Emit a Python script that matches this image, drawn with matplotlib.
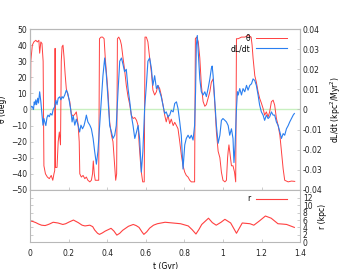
import matplotlib
matplotlib.use("Agg")
import matplotlib.pyplot as plt

# theta (deg) vs time (Gyr)
t_theta = [0.000, 0.004, 0.012, 0.020, 0.030, 0.038, 0.046, 0.050, 0.056, 0.062,
           0.068, 0.072, 0.080, 0.090, 0.100, 0.110, 0.118, 0.124, 0.128, 0.130,
           0.132, 0.140, 0.146, 0.152, 0.158, 0.162, 0.166, 0.171, 0.176, 0.182,
           0.188, 0.196, 0.206, 0.214, 0.224, 0.232, 0.240, 0.249, 0.255, 0.258,
           0.266, 0.275, 0.284, 0.292, 0.300, 0.310, 0.318, 0.324, 0.328, 0.333,
           0.338, 0.350, 0.356, 0.360, 0.368, 0.376, 0.384, 0.390, 0.398, 0.404,
           0.413, 0.422, 0.430, 0.436, 0.440, 0.444, 0.449, 0.453, 0.460, 0.468,
           0.474, 0.482, 0.490, 0.499, 0.508, 0.517, 0.525, 0.534, 0.543, 0.552,
           0.560, 0.566, 0.572, 0.577, 0.584, 0.592, 0.596, 0.603, 0.611, 0.620,
           0.629, 0.637, 0.646, 0.655, 0.663, 0.672, 0.680, 0.689, 0.698, 0.706,
           0.715, 0.724, 0.732, 0.742, 0.750, 0.759, 0.767, 0.776, 0.784, 0.793,
           0.802, 0.810, 0.819, 0.828, 0.836, 0.845, 0.853, 0.857, 0.864, 0.872,
           0.880, 0.888, 0.897, 0.906, 0.914, 0.923, 0.932, 0.940, 0.949, 0.958,
           0.966, 0.975, 0.984, 0.992, 1.000, 1.010, 1.018, 1.024, 1.027, 1.031,
           1.035, 1.044, 1.052, 1.060, 1.066, 1.070, 1.079, 1.096, 1.113, 1.130,
           1.146, 1.151, 1.156, 1.165, 1.173, 1.182, 1.190, 1.199, 1.208, 1.216,
           1.225, 1.234, 1.242, 1.251, 1.260, 1.268, 1.277, 1.286, 1.295, 1.303,
           1.312, 1.320, 1.338, 1.355, 1.372]
theta = [-38, 30, 40, 42, 43, 42, 43, 35, 42, 41,
         30, -35, -40, -42, -43, -41, -44, -40, -38, 38,
         -36, -36, -20, -14, -22, 30, 39, 40, 33, 22,
         13, 9, 5, -3, -4, -3, -1.5, -9, -20, -40,
         -42, -41, -43, -42, -44, -45, -44, -40, -32, -40,
         -44, -44, -44, 44, 45, 45, 44, 32, 20, 11,
         -8, -16, -20, -30, -37, -44, -40, 44, 45, 43,
         40, 32, 25, 15, 8, 3, -3.5, -5.6, -5, -6.7,
         -10, -22, -32, -39, -45, -45, 45, 45, 42, 32,
         23, 12, 9, 11, 15, 13, 9, 3, -3.5, -7.7,
         -3.5, -8.8, -6, -10, -8, -10, -12, -20, -28, -35,
         -39, -41, -42, -44, -45, -45, -45, 44, 45, 42,
         32, 15, 5, 2, 3, 7, 11, 17, 19, 3,
         -14, -26, -30, -39, -44, -45, -44, -30, -26, -22,
         -26, -35, -35, -39, -45, 44, 44, 45, 45, 46,
         45, 40, 32, 21, 17, 11, 7, 4, 0.6, -3.5,
         -1.5, -4.6, -1.5, 4.8, 5.8, 2.7, -5.6, -10, -16, -26,
         -37, -44, -45, -44.5, -44.7]

# dL/dt (kpc^2/Myr^2) vs time (Gyr)
t_dldt = [0.000, 0.006, 0.012, 0.018, 0.022, 0.026, 0.030, 0.034, 0.040, 0.044,
          0.050, 0.056, 0.062, 0.067, 0.072, 0.077, 0.082, 0.088, 0.093, 0.100,
          0.106, 0.114, 0.120, 0.128, 0.134, 0.140, 0.146, 0.154, 0.160, 0.166,
          0.172, 0.180, 0.188, 0.196, 0.204, 0.210, 0.214, 0.218, 0.224, 0.232,
          0.240, 0.249, 0.257, 0.264, 0.272, 0.280, 0.288, 0.292, 0.300, 0.310,
          0.318, 0.327, 0.335, 0.344, 0.352, 0.361, 0.370, 0.378, 0.387, 0.396,
          0.404, 0.413, 0.422, 0.430, 0.439, 0.447, 0.456, 0.465, 0.474, 0.482,
          0.490, 0.499, 0.508, 0.517, 0.525, 0.534, 0.543, 0.552, 0.560, 0.568,
          0.577, 0.585, 0.594, 0.603, 0.611, 0.620, 0.629, 0.637, 0.646, 0.655,
          0.663, 0.672, 0.680, 0.689, 0.698, 0.706, 0.715, 0.724, 0.732, 0.742,
          0.750, 0.759, 0.767, 0.776, 0.784, 0.793, 0.802, 0.810, 0.819, 0.828,
          0.836, 0.845, 0.853, 0.858, 0.862, 0.867, 0.872, 0.880, 0.888, 0.897,
          0.906, 0.914, 0.923, 0.932, 0.940, 0.944, 0.949, 0.958, 0.966, 0.975,
          0.984, 0.992, 1.000, 1.010, 1.018, 1.027, 1.035, 1.044, 1.052, 1.057,
          1.063, 1.070, 1.075, 1.079, 1.087, 1.096, 1.104, 1.113, 1.122, 1.130,
          1.139, 1.148, 1.156, 1.165, 1.173, 1.182, 1.190, 1.199, 1.208, 1.216,
          1.225, 1.234, 1.242, 1.251, 1.260, 1.268, 1.277, 1.286, 1.295, 1.303,
          1.312, 1.320, 1.329, 1.338, 1.346, 1.355, 1.364, 1.370]
dldt = [-0.0012, 0.0016, 0.0014, 0.0, 0.0038, 0.0024, 0.0048, 0.0024, 0.0056, 0.0032,
        0.0088, 0.0040, -0.0024, -0.0078, -0.0045, -0.0064, -0.0080, -0.0040, -0.0028, -0.0036,
        -0.0020, -0.0028, 0.0, 0.0014, 0.0046, 0.0024, 0.0056, 0.0063, 0.0048, 0.0064,
        0.0056, 0.0072, 0.0096, 0.0080, 0.0040, 0.0005, -0.0024, -0.0062, -0.0032, -0.0078,
        -0.0048, -0.0078, -0.0112, -0.0078, -0.0096, -0.0080, -0.0048, -0.0028, -0.0062, -0.0078,
        -0.0096, -0.0144, -0.0208, -0.0272, -0.0208, -0.0078, 0.0056, 0.0168, 0.0256, 0.0168,
        0.0056, -0.0080, -0.0112, -0.0144, -0.0128, -0.0080, 0.0088, 0.0240, 0.0256, 0.0224,
        0.0188, 0.0200, 0.0104, 0.0038, -0.0028, -0.0080, -0.0144, -0.0112, -0.0080, -0.0144,
        -0.0312, -0.0208, 0.0005, 0.0120, 0.0240, 0.0256, 0.0205, 0.0120, 0.0168, 0.0104,
        0.0120, 0.0088, 0.0064, 0.0022, -0.0020, -0.0012, -0.0037, -0.0028, -0.0004, -0.0012,
        0.0030, 0.0038, 0.0005, -0.0062, -0.0128, -0.0296, -0.0176, -0.0144, -0.0128, -0.0144,
        -0.0128, -0.0152, -0.0080, 0.0088, 0.0320, 0.0368, 0.0288, 0.0152, 0.0088, 0.0072,
        0.0088, 0.0064, 0.0104, 0.0152, 0.0205, 0.0216, 0.0168, 0.0038, -0.0080, -0.0168,
        -0.0128, -0.0054, -0.0045, -0.0054, -0.0062, -0.0080, -0.0128, -0.0096, -0.0144, -0.0264,
        -0.0176, 0.0005, 0.0088, 0.0072, 0.0104, 0.0072, 0.0104, 0.0088, 0.0120, 0.0096,
        0.0120, 0.0128, 0.0152, 0.0144, 0.0120, 0.0072, 0.0022, -0.0012, -0.0028, -0.0054,
        -0.0028, -0.0045, -0.0037, -0.0012, -0.0028, -0.0028, -0.0062, -0.0080, -0.0112, -0.0144,
        -0.0120, -0.0128, -0.0096, -0.0080, -0.0062, -0.0045, -0.0028, -0.0020]

# r (kpc) vs time (Gyr)
t_r = [0.0, 0.015, 0.03, 0.045, 0.06, 0.078, 0.09, 0.10, 0.12, 0.145,
       0.17, 0.185, 0.20, 0.225, 0.25, 0.27, 0.285, 0.31, 0.325, 0.335,
       0.35, 0.36, 0.375, 0.39, 0.42, 0.435, 0.45, 0.465, 0.48, 0.51,
       0.535, 0.55, 0.565, 0.58, 0.59, 0.605, 0.62, 0.64, 0.66, 0.70,
       0.74, 0.78, 0.82, 0.84, 0.86, 0.875, 0.89, 0.925, 0.945, 0.965,
       0.99, 1.01, 1.04, 1.055, 1.07, 1.085, 1.10, 1.14, 1.16, 1.19,
       1.22, 1.25, 1.285, 1.31, 1.33, 1.37]
r = [5.75, 5.6, 5.3, 4.9, 4.6, 4.5, 4.7, 4.9, 5.4, 5.2,
     4.8, 5.0, 5.4, 6.0, 5.3, 4.6, 4.4, 4.6, 4.2, 3.3,
     2.4, 2.1, 2.5, 3.0, 3.75, 3.0, 1.9, 2.4, 3.2, 4.3,
     4.8, 4.5, 4.0, 2.8, 2.1, 2.8, 3.8, 4.6, 5.0, 5.4,
     5.2, 5.0, 4.4, 3.4, 2.2, 3.4, 4.8, 6.5, 5.3, 4.6,
     5.4, 6.2, 5.2, 3.8, 2.4, 3.8, 5.2, 5.0, 4.6, 5.8,
     7.1, 6.5, 5.0, 4.9, 4.8, 4.0]

xticks = [0, 0.2, 0.4, 0.6, 0.8, 1.0, 1.2, 1.4]
xticklabels = ["0", "0.2", "0.4", "0.6", "0.8", "1", "1.2", "1.4"]
theta_ticks = [-50, -40, -30, -20, -10, 0, 10, 20, 30, 40, 50]
dldt_ticks = [-0.04, -0.03, -0.02, -0.01, 0, 0.01, 0.02, 0.03, 0.04]
dldt_labels = ["-0.04", "-0.03", "-0.02", "-0.01", "0", "0.01", "0.02", "0.03", "0.04"]
r_ticks = [0, 2, 4, 6, 8, 10, 12]

red = "#ff4040"
blue = "#2a7ff0"
grey = "#b8b8b8"
fs = 5.5

fig = plt.figure(figsize=(3.49, 2.69), dpi=100)
ax1 = fig.add_axes([0.086, 0.294, 0.774, 0.598])
ax1r = ax1.twinx()
ax2 = fig.add_axes([0.086, 0.100, 0.774, 0.194])

def style(ax):
    for s in ax.spines.values():
        s.set_color(grey)
        s.set_linewidth(0.8)
    ax.tick_params(direction="in", length=2.5, width=0.5, color=grey,
                   labelsize=fs, labelcolor="#222222", pad=2)

for ax in (ax1, ax1r, ax2):
    style(ax)

ax1.axhline(0, color="#c8f0c0", lw=1.0, zorder=0)
l1, = ax1.plot(t_theta, theta, color=red, lw=0.7, label="θ")
l2, = ax1r.plot(t_dldt, dldt, color=blue, lw=0.8, label="dL/dt")
ax1.set_xlim(0, 1.4)
ax1.set_ylim(-50, 50)
ax1r.set_ylim(-0.04, 0.04)
ax1.set_yticks(theta_ticks)
ax1.set_xticks(xticks)
ax1.tick_params(labelbottom=False)
ax1r.set_yticks(dldt_ticks)
ax1r.set_yticklabels(dldt_labels)
ax1.set_ylabel("θ (deg)", fontsize=fs, labelpad=3)
ax1r.set_ylabel("dL/dt (kpc$^2$/Myr$^2$)", fontsize=fs, labelpad=4)
ax1r.legend([l1, l2], ["θ", "dL/dt"], loc="upper right", bbox_to_anchor=(0.97, 1.0),
            frameon=False, markerfirst=False, fontsize=fs, handlelength=4.1,
            handletextpad=0.8, borderaxespad=0.2, labelspacing=0.2)

l3, = ax2.plot(t_r, r, color=red, lw=0.8)
ax2.set_xlim(0, 1.4)
ax2.set_ylim(0, 14.2)
ax2.set_xticks(xticks)
ax2.set_xticklabels(xticklabels)
ax2.set_yticks(r_ticks)
ax2.yaxis.set_label_position("right")
ax2.tick_params(left=True, right=True, labelleft=False, labelright=True, labelsize=fs)
ax2.tick_params(axis="x", pad=5)
ax2.set_ylabel("r (kpc)", fontsize=fs, labelpad=4)
ax2.set_xlabel("t (Gyr)", fontsize=fs, labelpad=3)
ax2.legend([l3], ["r"], loc="upper right", bbox_to_anchor=(0.97, 1.0), frameon=False,
           markerfirst=False, fontsize=fs, handlelength=4.1, handletextpad=0.8,
           borderaxespad=0.2)

fig.savefig("out.png", dpi=100)
